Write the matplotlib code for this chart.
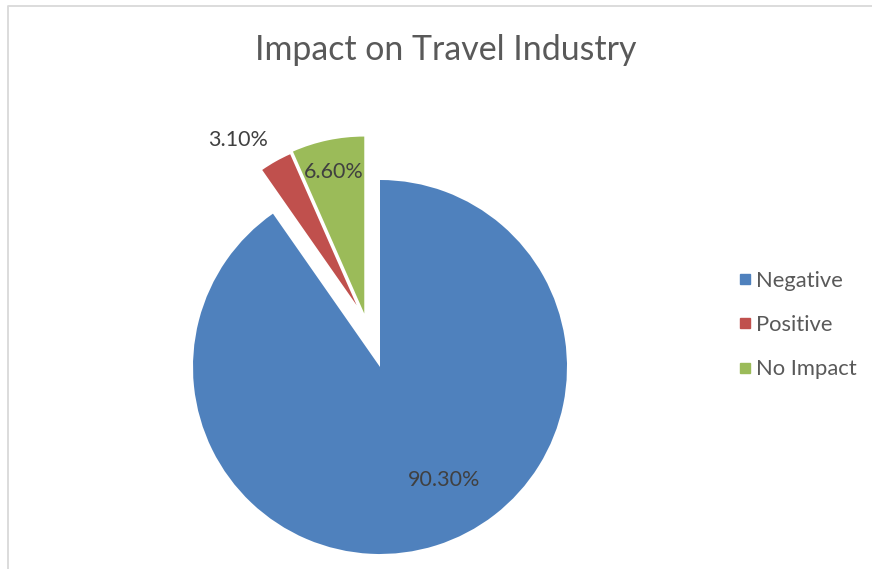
import math
import matplotlib.pyplot as plt
from matplotlib.lines import Line2D

# survey results
categories = ['Negative', 'Positive', 'No Impact']
shares = [90.3, 3.1, 6.6]
colors = ['#4F81BD', '#C0504D', '#9BBB59']

# slice offsets: distance (px) and direction (deg) for the pulled-out slices
pull_dist = [0, 66, 55.7]
pull_dir = [0, 110.7, 106.4]
radii = [187, 165, 177]

W, H = 872, 569
cx, cy = 380, 202
fig = plt.figure(figsize=(W / 100, H / 100), dpi=100)
ax = fig.add_axes([0, 0, 1, 1])

wedges, texts, autotexts = ax.pie(
    shares, colors=colors, startangle=90, counterclock=False,
    center=(cx, cy), radius=187, autopct='%.2f%%', frame=True,
    textprops=dict(fontsize=15.5, color='#404040', family='Lato'),
    wedgeprops=dict(linewidth=0))
for w, r, d, a in zip(wedges, radii, pull_dist, pull_dir):
    w.set_radius(r)
    w.set_center((cx + d * math.cos(math.radians(a)),
                  cy + d * math.sin(math.radians(a))))

# label spots, in pixel units
label_pos = [(444, 89), (238, 429), (334, 397)]
for t, p in zip(autotexts, label_pos):
    t.set_position(p)

ax.set_xlim(0, W)
ax.set_ylim(0, H)
ax.set_aspect('equal')
ax.axis('off')

# chart frame
ax.add_line(Line2D([8, 8, W], [0, H - 6, H - 6], color='#D9D9D9', lw=1.3))

ax.text(446, H - 50, 'Impact on Travel Industry', ha='center', va='center',
        fontsize=24.4, color='#595959', family='Lato')

handles = [Line2D([], [], marker='s', ls='', ms=7, color=c) for c in colors]
ax.legend(handles, categories, loc='upper left', bbox_to_anchor=(727 / W, 1 - 260 / H),
          frameon=False, prop=dict(family='Lato', size=15.8), labelcolor='#595959',
          handlelength=0.6, handletextpad=0.2, labelspacing=1.1, borderpad=0)

fig.savefig('out.png', dpi=100)
